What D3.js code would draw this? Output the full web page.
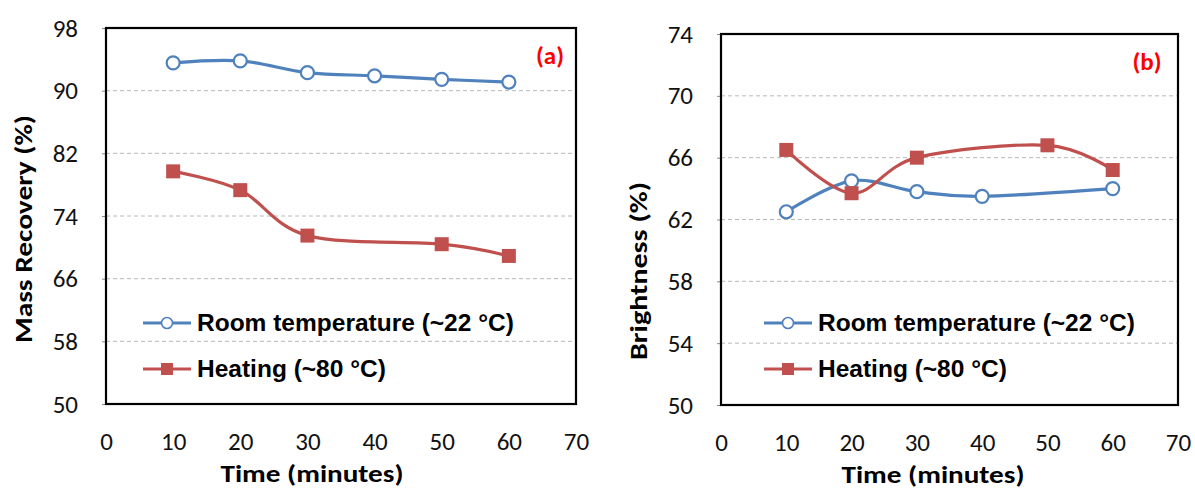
<!DOCTYPE html>
<html>
<head>
<meta charset="utf-8">
<script src="https://cdn.jsdelivr.net/npm/d3@7"></script>
<style>
  body { margin: 0; background: #fff; }
  svg { display: block; }
</style>
</head>
<body>
<svg id="chart" width="1195" height="489"></svg>
<script>
// chart data
var timeTicks = [0, 10, 20, 30, 40, 50, 60, 70];
var massTicks = [50, 58, 66, 74, 82, 90, 98];
var brightTicks = [50, 54, 58, 62, 66, 70, 74];

var massRoomTime = [10, 20, 30, 40, 50, 60];
var massRoom = [93.55, 93.8, 92.3, 91.9, 91.45, 91.1];
var massHeatTime = [10, 20, 30, 50, 60];
var massHeat = [79.7, 77.3, 71.5, 70.4, 68.9];

var brightRoomTime = [10, 20, 30, 40, 60];
var brightRoom = [62.5, 64.5, 63.8, 63.5, 64.0];
var brightHeatTime = [10, 20, 30, 50, 60];
var brightHeat = [66.5, 63.7, 66.0, 66.8, 65.2];

var legendLabels = ["Room temperature (~22 \u00B0C)", "Heating (~80 \u00B0C)"];

var blue = "#4F81BD";
var red = "#C0504D";
var tickFont = "Carlito, Lato, sans-serif";
var legendFont = "Arial, 'Liberation Sans', sans-serif";

var svg = d3.select("#chart");

function zip(xs, ys) {
    return xs.map(function(t, i) { return {t: t, v: ys[i]}; });
}

function panel(cfg) {
    var x = d3.scaleLinear().domain([0, 70]).range([cfg.left, cfg.right]);
    var y = d3.scaleLinear().domain([cfg.ticks[0], cfg.ticks[cfg.ticks.length - 1]]).range([cfg.bottom, cfg.top]);
    var g = svg.append("g");

    // dashed grid
    g.append("g").selectAll("line")
        .data(cfg.ticks.slice(1, -1))
        .enter().append("line")
        .attr("x1", cfg.left).attr("x2", cfg.right)
        .attr("y1", function(d) { return y(d); })
        .attr("y2", function(d) { return y(d); })
        .attr("stroke", "#b8b8b8")
        .attr("stroke-width", 1)
        .attr("stroke-dasharray", "4,3");

    // y axis labels
    var yAxis = d3.axisLeft(y).tickValues(cfg.ticks).tickSize(4).tickPadding(24);
    var ya = g.append("g").attr("transform", "translate(" + cfg.left + ",0)").call(yAxis);
    ya.select(".domain").remove();
    ya.selectAll("line").attr("stroke", "#888");
    ya.selectAll("text")
        .attr("font-family", tickFont).attr("font-size", 25).attr("fill", "#111");

    // x axis labels
    var xAxis = d3.axisBottom(x).tickValues(timeTicks).tickSize(0).tickPadding(0);
    var xa = g.append("g").attr("transform", "translate(0," + cfg.bottom + ")").call(xAxis);
    xa.select(".domain").remove();
    xa.selectAll("text")
        .attr("font-family", tickFont).attr("font-size", 25).attr("fill", "#111")
        .attr("dy", null).attr("y", 46);

    // frame
    g.append("rect")
        .attr("x", cfg.left).attr("y", cfg.top)
        .attr("width", cfg.right - cfg.left).attr("height", cfg.bottom - cfg.top)
        .attr("fill", "none").attr("stroke", "#000").attr("stroke-width", 2.2);

    var line = d3.line()
        .x(function(d) { return x(d.t); })
        .y(function(d) { return y(d.v); })
        .curve(d3.curveCatmullRom.alpha(0));

    var roomPts = zip(cfg.roomTime, cfg.room);
    var heatPts = zip(cfg.heatTime, cfg.heat);

    g.append("path").datum(roomPts)
        .attr("d", line).attr("fill", "none").attr("stroke", blue).attr("stroke-width", 3.2);
    g.append("path").datum(heatPts)
        .attr("d", line).attr("fill", "none").attr("stroke", red).attr("stroke-width", 3.2);

    g.selectAll(".room-dot").data(roomPts).enter().append("circle")
        .attr("class", "room-dot")
        .attr("cx", function(d) { return x(d.t); })
        .attr("cy", function(d) { return y(d.v); })
        .attr("r", 6.5)
        .attr("fill", "#fff").attr("stroke", blue).attr("stroke-width", 2.2);

    g.selectAll(".heat-dot").data(heatPts).enter().append("rect")
        .attr("class", "heat-dot")
        .attr("x", function(d) { return x(d.t) - 7; })
        .attr("y", function(d) { return y(d.v) - 7; })
        .attr("width", 14).attr("height", 14)
        .attr("fill", red);

    // axis titles
    g.append("text")
        .attr("x", cfg.xTitleX).attr("y", cfg.bottom + 78)
        .attr("text-anchor", "middle")
        .attr("font-family", tickFont).attr("font-weight", "bold").attr("font-size", 25)
        .attr("textLength", 183).attr("lengthAdjust", "spacingAndGlyphs")
        .text("Time (minutes)");

    g.append("text")
        .attr("transform", "translate(" + cfg.yTitleX + "," + cfg.yTitleY + ") rotate(-90)")
        .attr("text-anchor", "middle")
        .attr("font-family", tickFont).attr("font-weight", "bold").attr("font-size", 25)
        .attr("textLength", cfg.yTitleLen).attr("lengthAdjust", "spacingAndGlyphs")
        .text(cfg.yTitle);

    // panel tag
    g.append("text")
        .attr("x", cfg.tagX).attr("y", cfg.tagY)
        .attr("text-anchor", "middle")
        .attr("font-family", tickFont).attr("font-weight", "900").attr("font-size", 25)
        .attr("fill", "#ff0000")
        .text(cfg.tag);

    // legend
    var lg = g.append("g");
    var rows = [331, 377];
    rows.forEach(function(by, i) {
        var cy = by - 8;
        lg.append("line")
            .attr("x1", cfg.legX).attr("x2", cfg.legX + 48)
            .attr("y1", cy).attr("y2", cy)
            .attr("stroke", i === 0 ? blue : red).attr("stroke-width", 3.2);
        if (i === 0) {
            lg.append("circle")
                .attr("cx", cfg.legX + 24).attr("cy", cy).attr("r", 5.5)
                .attr("fill", "#fff").attr("stroke", blue).attr("stroke-width", 1.6);
        } else {
            lg.append("rect")
                .attr("x", cfg.legX + 18).attr("y", cy - 6)
                .attr("width", 12).attr("height", 12).attr("fill", red);
        }
        lg.append("text")
            .attr("x", cfg.legX + 54).attr("y", by)
            .attr("font-family", legendFont).attr("font-weight", "bold").attr("font-size", 24.5)
            .attr("fill", "#000")
            .text(legendLabels[i]);
    });
}

panel({
    left: 106, right: 576, top: 28, bottom: 404,
    ticks: massTicks,
    roomTime: massRoomTime, room: massRoom,
    heatTime: massHeatTime, heat: massHeat,
    xTitleX: 312, yTitle: "Mass Recovery (%)", yTitleX: 32, yTitleY: 229, yTitleLen: 228,
    tag: "(a)", tagX: 550, tagY: 64,
    legX: 143
});

panel({
    left: 721, right: 1178, top: 34, bottom: 405,
    ticks: brightTicks,
    roomTime: brightRoomTime, room: brightRoom,
    heatTime: brightHeatTime, heat: brightHeat,
    xTitleX: 933, yTitle: "Brightness (%)", yTitleX: 647, yTitleY: 271, yTitleLen: 178,
    tag: "(b)", tagX: 1147, tagY: 70,
    legX: 764
});
</script>
</body>
</html>
